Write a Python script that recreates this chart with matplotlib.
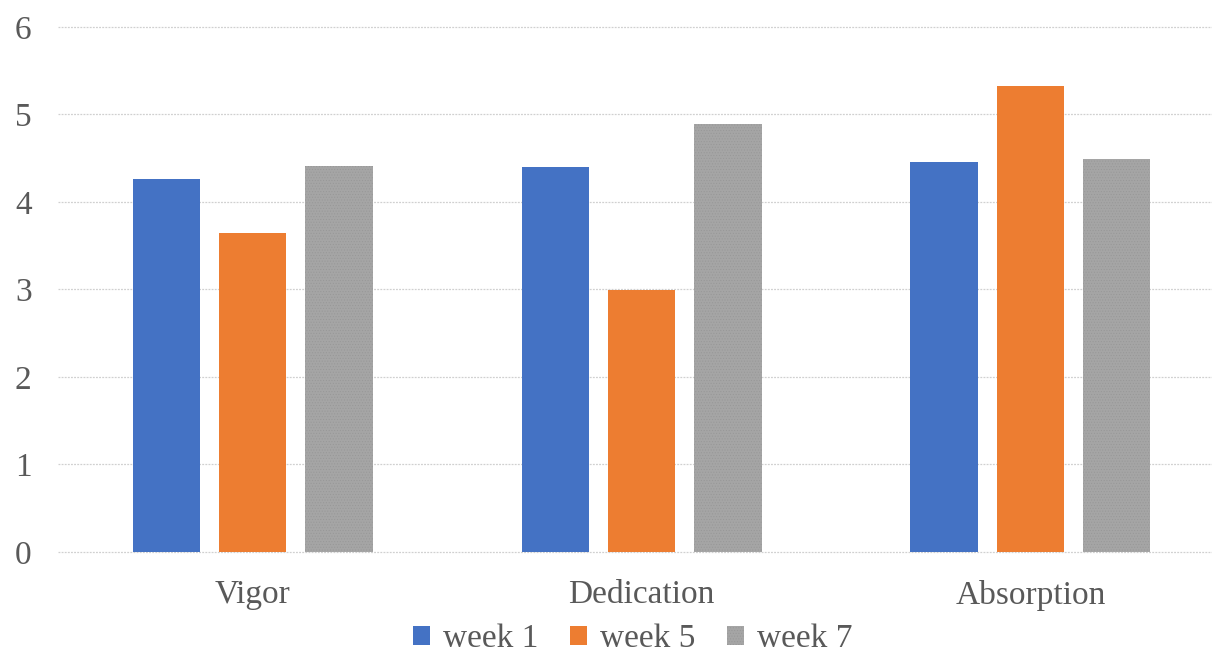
import matplotlib
matplotlib.use("Agg")
import matplotlib.pyplot as plt
import numpy as np

categories = ["Vigor", "Dedication", "Absorption"]
series_names = ["week 1", "week 5", "week 7"]
week1 = [4.26, 4.40, 4.46]
week5 = [3.65, 2.99, 5.33]
week7 = [4.41, 4.89, 4.49]
y_ticks = [0, 1, 2, 3, 4, 5, 6]

colors = ["#4472C4", "#ED7D31", "#A5A5A5"]
text_color = "#595959"

plt.rcParams["font.family"] = ["Liberation Serif", "DejaVu Serif"]
plt.rcParams["hatch.linewidth"] = 0.4

fig = plt.figure(figsize=(12.12, 6.53), dpi=100)
ax = fig.add_axes([0.0479, 0.1547, 0.9628, 0.804])

x = np.arange(len(categories))
width = 0.173
step = 0.222
series = [week1, week5, week7]
for i, (vals, name, col) in enumerate(zip(series, series_names, colors)):
    if i == 2:
        kw = dict(hatch="......", edgecolor="#979797", linewidth=0)
    else:
        kw = dict(edgecolor="none")
    ax.bar(x + (i - 1) * step, vals, width, color=col, label=name, zorder=3, **kw)

ax.set_xlim(-0.5, 2.5)
ax.set_ylim(0, 6)
ax.set_yticks(y_ticks)
ax.set_xticks(x)
ax.set_xticklabels(categories)
ax.yaxis.grid(True, color="#d0d0d0", linestyle=(0, (1.5, 1)), linewidth=0.9, zorder=0)
for gl in ax.get_ygridlines():
    gl.set_clip_on(False)
ax.set_axisbelow(True)
for s in ax.spines.values():
    s.set_visible(False)
ax.tick_params(axis="both", length=0, labelsize=24, labelcolor=text_color)
ax.tick_params(axis="y", pad=19)
ax.tick_params(axis="x", pad=20)

fig.legend(loc="center", bbox_to_anchor=(0.522, 0.022), ncol=3, frameon=False,
           fontsize=24, labelcolor=text_color, handlelength=0.5, handleheight=0.5,
           handletextpad=0.4, columnspacing=0.95)

fig.savefig("out.png", dpi=100)
